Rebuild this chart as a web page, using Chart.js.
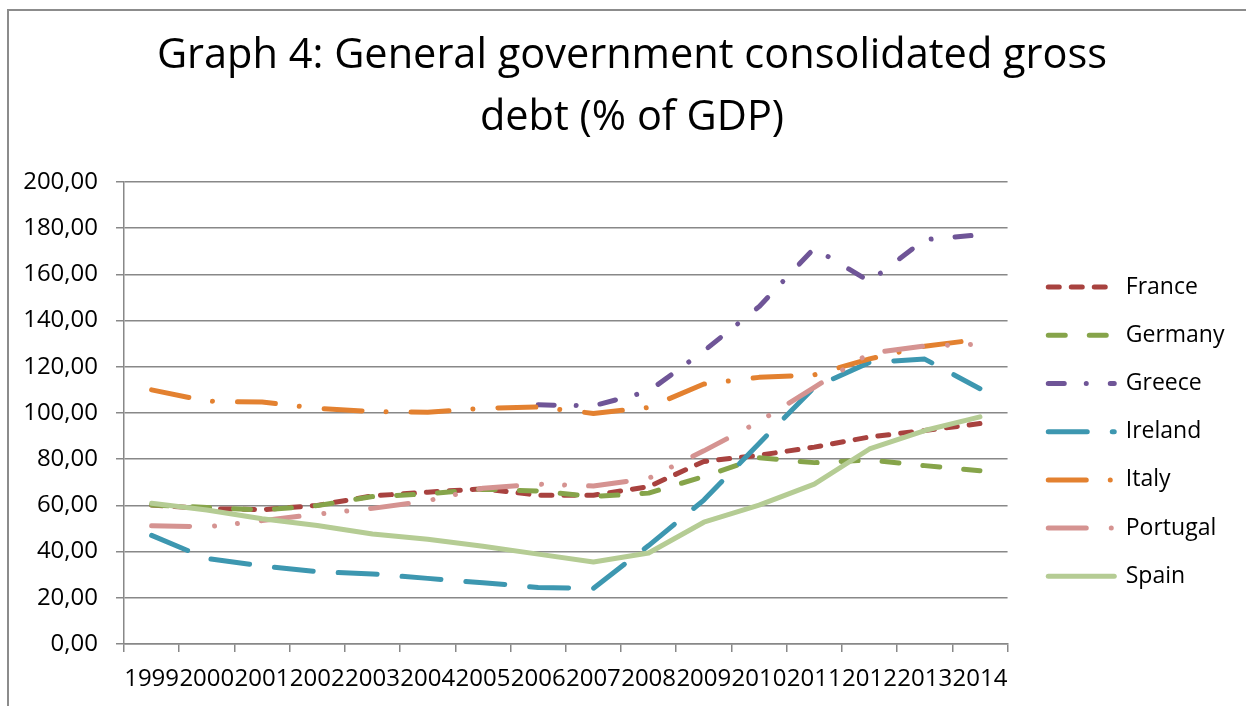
<!DOCTYPE html>
<html>
<head>
<meta charset="utf-8">
<script src="https://cdn.jsdelivr.net/npm/chart.js@4.4.1/dist/chart.umd.min.js"></script>
<style>
  html, body { margin: 0; padding: 0; background: #fff; overflow: hidden; }
  #frame { position: absolute; left: 7px; top: 9px; width: 1300px; height: 800px;
           border-left: 2px solid #8c8c8c; border-top: 2px solid #8c8c8c; }
  #debt-chart { position: absolute; left: 0; top: 0; }
</style>
</head>
<body>
<div id="frame"></div>
<canvas id="debt-chart" width="1246" height="706"></canvas>
<script>
/* data */
var years = ["1999", "2000", "2001", "2002", "2003", "2004", "2005", "2006",
             "2007", "2008", "2009", "2010", "2011", "2012", "2013", "2014"];

var france   = [60.2, 58.6, 58.1, 60.0, 64.1, 65.7, 67.2, 64.4, 64.4, 68.1, 79.0, 81.7, 85.2, 89.6, 92.4, 95.4];
var germany  = [60.2, 59.1, 58.0, 59.9, 63.8, 65.0, 67.0, 66.2, 63.8, 65.3, 72.5, 80.6, 78.5, 79.6, 77.2, 75.0];
var greece   = [null, null, null, null, null, null, null, 103.5, 103.1, 109.4, 126.8, 146.0, 171.3, 156.9, 175.0, 177.1];
var ireland  = [47.0, 37.0, 33.8, 31.3, 30.3, 28.4, 26.5, 24.5, 24.1, 42.6, 62.3, 86.8, 111.1, 121.9, 123.3, 110.5];
var italy    = [110.0, 105.1, 104.7, 102.0, 100.6, 100.3, 102.0, 102.6, 99.8, 102.4, 112.5, 115.4, 116.5, 123.4, 128.9, 131.9];
var portugal = [51.2, 50.7, 53.4, 56.2, 58.7, 62.0, 67.4, 69.2, 68.4, 71.7, 83.6, 96.2, 111.1, 125.8, 129.0, 129.8];
var spain    = [60.9, 58.0, 54.2, 51.3, 47.6, 45.3, 42.3, 38.9, 35.5, 39.4, 52.7, 60.1, 69.2, 84.4, 92.4, 98.3];

var yMin = 0, yMax = 200, yStep = 20;

var FONT = "'Open Sans', sans-serif";
var GRID = "#888888";
var leftPad = 20, rightPad = 27;

function series(label, data, color, dash, order) {
  return {
    label: label,
    data: data,
    borderColor: color,
    backgroundColor: color,
    borderWidth: 5,
    borderDash: dash,
    borderCapStyle: "round",
    borderJoinStyle: "round",
    pointRadius: 0,
    pointStyle: "line",
    tension: 0,
    fill: false,
    order: order
  };
}

/* move the legend block and the title to where they sit in the original */
var blockNudge = {
  id: "blockNudge",
  afterLayout: function(chart) {
    var lg = chart.legend;
    var dx = chart.chartArea.right + 15.5 - lg.left;
    var dy = chart.chartArea.top + 68.5 - lg.top;
    lg.left += dx; lg.right += dx;
    lg.top += dy; lg.bottom += dy;

    var tb = chart.titleBlock;
    var tx = 632 - (tb.left + tb.right) / 2;
    tb.left += tx; tb.right += tx;
  }
};

/* legend samples keep the dash pattern of their line */
function dashedLabels(chart) {
  var items = Chart.defaults.plugins.legend.labels.generateLabels(chart);
  items.forEach(function(it) {
    var ds = chart.data.datasets[it.datasetIndex];
    it.lineDash = ds.borderDash;
    it.lineCap = "round";
    it.lineWidth = ds.borderWidth;
    it.strokeStyle = ds.borderColor;
  });
  return items;
}

var ctx = document.getElementById("debt-chart");
var myChart = new Chart(ctx, {
  type: "line",
  data: {
    labels: years,
    datasets: [
      series("France",   france,   "#a8423f", [11, 12], 6),
      series("Germany",  germany,  "#86a44a", [17, 24], 5),
      series("Greece",   greece,   "#6f5597", [16, 22, 0.01, 24], 4),
      series("Ireland",  ireland,  "#3d97b0", [39, 25], 3),
      series("Italy",    italy,    "#e38130", [38, 24, 0.01, 25], 2),
      series("Portugal", portugal, "#d59391", [38, 25, 0.01, 23, 0.01, 24], 1),
      series("Spain",    spain,    "#b5cc94", [], 0)
    ]
  },
  options: {
    responsive: false,
    animation: false,
    events: [],
    layout: { padding: { left: leftPad, right: rightPad, top: 0, bottom: 0 } },
    plugins: {
      title: {
        display: true,
        text: ["Graph 4: General government consolidated gross", "debt (% of GDP)"],
        color: "#000",
        font: { family: FONT, size: 41.5, weight: "normal", lineHeight: 1.5 },
        padding: { top: 24.9, bottom: 32.5 }
      },
      legend: {
        position: "right",
        align: "start",
        labels: {
          usePointStyle: true,
          pointStyle: "line",
          pointStyleWidth: 66,
          padding: 25.2,
          color: "#000",
          font: { family: FONT, size: 23 },
          generateLabels: dashedLabels,
          sort: function(a, b) { return a.datasetIndex - b.datasetIndex; }
        }
      },
      tooltip: { enabled: false }
    },
    scales: {
      x: {
        offset: true,
        grid: { display: true, drawOnChartArea: false, drawTicks: true, tickLength: 8,
                color: GRID, lineWidth: 1.5, offset: true },
        border: { display: true, color: GRID, width: 1.5 },
        ticks: { autoSkip: false, maxRotation: 0, minRotation: 0, padding: 13,
                 color: "#000", font: { family: FONT, size: 24 } },
        afterFit: function(s) { s.height = 62; }
      },
      y: {
        min: yMin,
        max: yMax,
        grid: { color: GRID, lineWidth: 1.5, drawTicks: true, tickLength: 8 },
        border: { display: true, color: GRID, width: 1.5 },
        ticks: {
          stepSize: yStep,
          padding: 18,
          color: "#000",
          font: { family: FONT, size: 24 },
          callback: function(v) { return v.toFixed(2).replace(".", ","); }
        },
        afterFit: function(s) { s.width = 124 - leftPad; }
      }
    }
  },
  plugins: [blockNudge]
});
</script>
</body>
</html>
